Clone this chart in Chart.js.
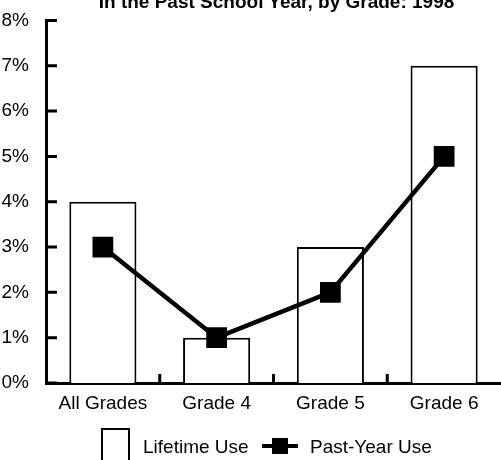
<!DOCTYPE html>
<html lang="en">
<head>
  <meta charset="UTF-8">
  <title>Lifetime and Past-Year Use, by Grade: 1998</title>
  <script src="https://cdn.jsdelivr.net/npm/chart.js"></script>
  <style>
    body {
      margin: 0;
      font-family: 'Liberation Sans', Arial, sans-serif;
      color: #000;
      background: #fff;
    }
    .wrap {
      position: relative;
      width: 501px;
      height: 460px;
      overflow: hidden;
    }
    .title {
      position: absolute;
      left: 0;
      width: 553px;
      top: -8px;
      text-align: center;
      font-weight: bold;
      font-size: 19px;
      line-height: 19px;
      white-space: nowrap;
    }
    .legend {
      position: absolute;
      left: 0;
      top: 0;
      width: 501px;
      height: 460px;
      font-size: 19px;
      pointer-events: none;
    }
    .legend .box {
      position: absolute;
      left: 101px;
      top: 428px;
      width: 25px;
      height: 40px;
      border: 2px solid #000;
    }
    .legend .txt {
      position: absolute;
      line-height: 19px;
      top: 437px;
      white-space: nowrap;
    }
    .legend .ln {
      position: absolute;
      left: 262px;
      top: 444px;
      width: 36px;
      height: 4px;
      background: #000;
    }
    .legend .sq {
      position: absolute;
      left: 272px;
      top: 438px;
      width: 16px;
      height: 16px;
      background: #000;
    }
  </style>
</head>
<body>
  <div class="wrap">
    <canvas id="useChart"></canvas>
    <div class="title">In the Past School Year, by Grade: 1998</div>
    <div class="legend">
      <div class="box"></div>
      <div class="txt" style="left:143px">Lifetime Use</div>
      <div class="ln"></div>
      <div class="sq"></div>
      <div class="txt" style="left:310px">Past-Year Use</div>
    </div>
  </div>

  <script>
    // data (percent)
    const grades = ['All Grades', 'Grade 4', 'Grade 5', 'Grade 6'];
    const lifetimeUse = [4, 1, 3, 7];
    const pastYearUse = [3, 1, 2, 5];
    const yMin = 0;
    const yMax = 8;

    // short tick marks pointing into the plot, like the printed figure
    const innerTicks = {
      id: 'innerTicks',
      afterDraw(chart) {
        const ctx = chart.ctx;
        const x = chart.scales.x;
        const y = chart.scales.y;
        ctx.save();
        ctx.strokeStyle = '#000';
        ctx.lineWidth = 3;
        ctx.beginPath();
        y.ticks.forEach(t => {
          const py = y.getPixelForValue(t.value);
          ctx.moveTo(y.right, py);
          ctx.lineTo(y.right + 11, py);
        });
        for (let i = 0; i < grades.length - 1; i++) {
          const px = (x.getPixelForValue(i) + x.getPixelForValue(i + 1)) / 2;
          ctx.moveTo(px, x.top);
          ctx.lineTo(px, x.top - 9);
        }
        ctx.stroke();
        ctx.restore();
      }
    };

    const ctx = document.getElementById('useChart').getContext('2d');
    new Chart(ctx, {
      type: 'bar',
      data: {
        labels: grades,
        datasets: [
          {
            type: 'line',
            label: 'Past-Year Use',
            data: pastYearUse,
            borderColor: '#000',
            backgroundColor: '#000',
            borderWidth: 4.5,
            pointStyle: 'rect',
            pointRadius: 11.5,
            tension: 0,
            order: 0
          },
          {
            label: 'Lifetime Use',
            data: lifetimeUse,
            backgroundColor: '#fff',
            borderColor: '#000',
            borderWidth: 2,
            barPercentage: 0.59,
            categoryPercentage: 1,
            order: 1
          }
        ]
      },
      options: {
        responsive: true,
        maintainAspectRatio: false,
        animation: false,
        layout: {
          autoPadding: false,
          padding: { top: 20, right: 0, left: 0, bottom: 0 }
        },
        plugins: {
          legend: { display: false },
          title: { display: false },
          tooltip: { enabled: false }
        },
        scales: {
          x: {
            grid: { display: false },
            border: { display: true, color: '#000', width: 3 },
            ticks: {
              color: '#000',
              padding: 1,
              font: { family: "'Liberation Sans', Arial, sans-serif", size: 19 }
            },
            afterFit(scale) {
              scale.height = 77;
              scale.paddingLeft = 0;
              scale.paddingRight = 0;
            }
          },
          y: {
            min: yMin,
            max: yMax,
            grid: { display: false },
            border: { display: true, color: '#000', width: 3 },
            ticks: {
              stepSize: 1,
              color: '#000',
              padding: 9,
              font: { family: "'Liberation Sans', Arial, sans-serif", size: 19 },
              callback: v => v + '%'
            },
            afterFit(scale) { scale.width = 46; }
          }
        }
      },
      plugins: [innerTicks]
    });
  </script>
</body>
</html>
